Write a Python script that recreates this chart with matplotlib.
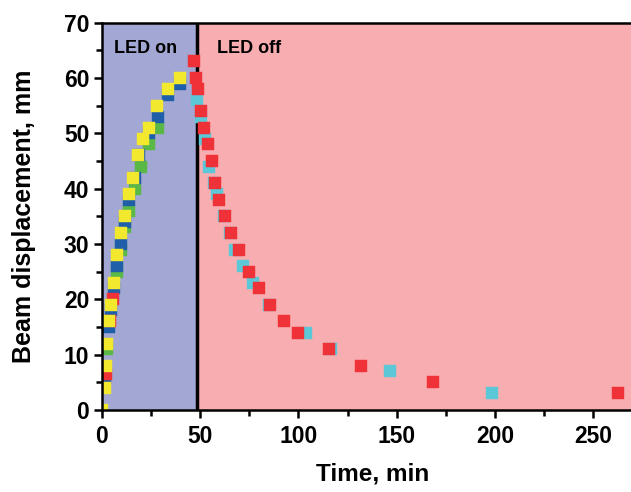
import matplotlib
matplotlib.use('Agg')
from matplotlib import pyplot as plt

# LED on: rising part (yellow, blue, green runs), red run also has a few early points
yellow_t = [0, 1.8, 2.3, 2.8, 3.8, 4.8, 6.4, 7.9, 9.8, 11.6, 13.7, 15.9, 18.2, 20.8, 23.8, 27.9, 33.8, 39.7]
yellow_y = [0, 3.9, 8, 11.9, 16, 19, 23, 28, 32, 35, 39, 42, 46, 49, 51, 55, 58, 60]

blue_t = [1.8, 3.8, 4.8, 6.4, 7.9, 9.8, 11.6, 13.8, 16.9, 19.1, 23.8, 28.6, 33.8, 39.9]
blue_y = [5.8, 15, 18, 22, 26, 30, 34, 38, 42, 46, 50, 53, 57, 59]

green_t = [2.8, 7.9, 9.8, 11.8, 13.8, 16.7, 19.8, 23.8, 28.7]
green_y = [11, 25, 29, 33, 36, 40, 44, 48, 51]

# red: a few points while LED on, then the decay
red_t = [2.3, 4.3, 5.7,
         46.7, 47.9, 48.9, 50.4, 51.8, 53.8, 55.8, 57.7, 59.7, 62.8, 65.7, 69.8,
         74.7, 79.7, 85.6, 92.7, 99.8, 115.6, 131.7, 168.6, 262.6]
red_y = [6.5, 16, 20,
         63, 60, 58, 54, 51, 48, 45, 41, 38, 35, 32, 29,
         25, 22, 19, 16, 14, 11, 8, 5, 3]

cyan_t = [48.5, 50.6, 52.4, 54.6, 57, 58.7, 62, 65, 67.5, 71.8, 76.8, 84.9, 103.8, 116.8, 146.6, 198.6]
cyan_y = [56, 53, 49, 44, 41, 39, 35, 32, 29, 26, 23, 19, 14, 11, 7, 3]

led_off_time = 48.4

plt.rcParams['font.family'] = ['Liberation Sans', 'DejaVu Sans']
plt.rcParams['font.weight'] = 'bold'

fig = plt.figure(figsize=(6.31, 4.92), dpi=100)
# axes runs past the right edge of the figure, as in the original
ax = fig.add_axes([0.1613, 0.1667, 0.8587, 0.7872])

ax.axvspan(0, led_off_time, color='#a3a7d3', lw=0, zorder=0)
ax.axvspan(led_off_time, 300, color='#f8adb0', lw=0, zorder=0)
ax.axvline(led_off_time, color='black', lw=2.5, zorder=1)

ms = 8
for t, y, c in [(green_t, green_y, '#5ab847'),
                (blue_t, blue_y, '#1f5faa'),
                (cyan_t, cyan_y, '#5bc7d7'),
                (red_t, red_y, '#ee3237'),
                (yellow_t, yellow_y, '#f2e82e')]:
    ax.plot(t, y, ls='none', marker='s', ms=ms, color=c, mec=c, mew=0.3, zorder=3)

ax.text(6.2, 64.6, 'LED on', fontsize=13, fontweight='bold', va='baseline', zorder=4)
ax.text(58.5, 64.6, 'LED off', fontsize=13, fontweight='bold', va='baseline', zorder=4)

ax.set_xlim(0, 275.5)
ax.set_ylim(0, 70)
ax.set_xticks(range(0, 251, 50))
ax.set_xticks(range(25, 276, 50), minor=True)
ax.set_yticks(range(0, 71, 10))
ax.set_yticks(range(5, 70, 10), minor=True)

for s in ax.spines.values():
    s.set_linewidth(1.8)
    s.set_zorder(5)
ax.tick_params(which='major', direction='out', length=6, width=1.8, labelsize=16.5)
ax.tick_params(axis='x', which='major', pad=4.5)
ax.tick_params(axis='y', which='major', pad=3)
ax.tick_params(which='minor', direction='out', length=4, width=1.8)
for lab in ax.get_xticklabels() + ax.get_yticklabels():
    lab.set_fontweight('bold')

ax.set_xlabel('Time, min', fontsize=17.5, fontweight='bold', labelpad=11)
ax.set_ylabel('Beam displacement, mm', fontsize=18, fontweight='bold', labelpad=20)

fig.savefig('out.png', dpi=100)
